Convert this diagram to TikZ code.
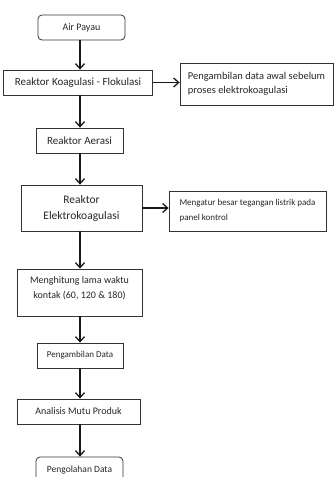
\documentclass[tikz,border=0pt]{standalone}
\usepackage{fontspec}
\setmainfont{Carlito}
\usetikzlibrary{arrows.meta}
\begin{document}
\begin{tikzpicture}[x=1pt,y=-1pt,
  box/.style={draw=black!80, line width=0.8pt, inner sep=0pt, text=black!85},
  rbox/.style={box, rounded corners=4pt},
  arr/.style={-{Straight Barb[length=5pt,width=9pt]}, line width=1.3pt, black!90},
  fs/.style={font=\fontsize{#1}{14}\selectfont}
]
\useasboundingbox (0,0) rectangle (334,477);
\clip (0,0) rectangle (334,477);
\coordinate (col) at (80,0);

\node[rbox, minimum width=87pt, minimum height=25pt, fs=10] (air) at (81.5,27.5) {Air Payau};
\node[box, minimum width=149pt, minimum height=25pt, fs=11] (koag) at (78,82.5) {Reaktor Koagulasi - Flokulasi};
\node[box, minimum width=153pt, minimum height=42pt, align=left, font=\fontsize{10.5}{14}\selectfont] (data1) at (256.5,84) {Pengambilan data awal sebelum\\proses elektrokoagulasi};
\node[box, minimum width=87pt, minimum height=25pt, fs=11] (aer) at (79.5,140.5) {Reaktor Aerasi};
\node[box, minimum width=121pt, minimum height=46pt, align=center, font=\fontsize{11.5}{16}\selectfont] (elek) at (81.5,208) {Reaktor\\Elektrokoagulasi};
\node[box, minimum width=157pt, minimum height=40pt, align=left, font=\fontsize{9}{15}\selectfont] (panel) at (247.5,211) {Mengatur besar tegangan listrik pada\\panel kontrol};
\node[box, minimum width=125pt, minimum height=47pt] (hitung) at (79.5,292.5) {};
\node[align=center, font=\fontsize{10}{15}\selectfont, text=black!85] (hitungtxt) at ([yshift=4pt]hitung.center) {Menghitung lama waktu\\kontak (60, 120 \& 180)};
\node[box, minimum width=86pt, minimum height=25pt, fs=9] (pdata) at (80,355.5) {Pengambilan Data};
\node[box, minimum width=123pt, minimum height=25pt, fs=10] (anal) at (78.5,411.5) {Analisis Mutu Produk};
\node[rbox, minimum width=87pt, minimum height=27pt, fs=9.5] (olah) at (79.5,470.5) {Pengolahan Data};

\draw[arr] (air.south -| col) -- (koag.north -| col);
\draw[arr] (koag.east) -- (koag.east -| data1.west);
\draw[arr] (koag.south -| col) -- (aer.north -| col);
\draw[arr] (aer.south -| col) -- (elek.north -| col);
\draw[arr] (elek.east) -- (elek.east -| panel.west);
\draw[arr] (elek.south -| col) -- (hitung.north -| col);
\draw[arr] (hitung.south -| col) -- (pdata.north -| col);
\draw[arr] (pdata.south -| col) -- (anal.north -| col);
\draw[arr] (anal.south -| col) -- (olah.north -| col);
\end{tikzpicture}
\end{document}
